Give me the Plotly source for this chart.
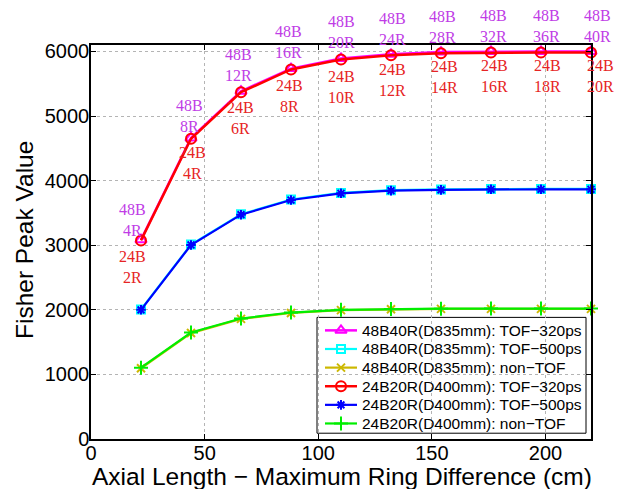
import plotly.graph_objects as go

# ---- data ----
axial_len = [22, 44, 66, 88, 110, 132, 154, 176, 198, 220]

b48_tof320 = [3085, 4660, 5385, 5735, 5892, 5955, 5990, 6000, 6000, 6000]
b48_tof500 = [2005, 3010, 3480, 3708, 3810, 3852, 3864, 3872, 3872, 3872]
b48_nontof = [1095, 1640, 1860, 1952, 1995, 2010, 2015, 2015, 2015, 2015]
b24_tof320 = [3075, 4648, 5370, 5721, 5876, 5940, 5973, 5984, 5985, 5985]
b24_tof500 = [2000, 3004, 3473, 3700, 3804, 3845, 3857, 3866, 3866, 3866]
b24_nontof = [1105, 1648, 1865, 1958, 2000, 2014, 2018, 2020, 2020, 2020]

top_labels = ["48B<br>%dR" % (4 * (i + 1)) for i in range(10)]
bottom_labels = ["24B<br>%dR" % (2 * (i + 1)) for i in range(10)]

series_names = [
    "48B40R(D835mm): TOF\u2212320ps",
    "48B40R(D835mm): TOF\u2212500ps",
    "48B40R(D835mm): non\u2212TOF",
    "24B20R(D400mm): TOF\u2212320ps",
    "24B20R(D400mm): TOF\u2212500ps",
    "24B20R(D400mm): non\u2212TOF",
]
x_title = "Axial Length \u2212 Maximum Ring Difference (cm)"
y_title = "Fisher Peak Value"

# ---- styles ----
styles = [
    dict(color="#ff00ff", symbol="triangle-up-open", size=10, width=2.5),
    dict(color="#00ffff", symbol="square-open", size=8, width=2.2),
    dict(color="#ccb800", symbol="x-thin-open", size=8, width=2.2),
    dict(color="#ff0000", symbol="circle-open", size=10, width=2.5),
    dict(color="#0000ff", symbol="asterisk-open", size=8, width=2.2),
    dict(color="#00ee00", symbol="cross-thin-open", size=10, width=2.2),
]
top_xshift = [-9, -2, -3, -3, 0, 1, 1, 2, 5, 6]
top_yshift = [20, 22, 26, 27, 26, 25, 25, 25, 25, 25]
bot_xshift = [-9, 1, -1, -2, 0, 1, 3, 3, 6, 9]
bot_yshift = [-27, -24, -26, -27, -28, -25, -24, -24, -24, -24]

# legend frame in pixel coordinates of the plotting area (overlay axes)
PLOT_L, PLOT_R, PLOT_T, PLOT_B = 91, 591, 44.7, 439.3
LEG_BOX = (317, 586, 317.5, 433.5)
LEG_ROW0, LEG_ROW_STEP = 330.5, 18.65
LEG_LINE = (325, 357)
LEG_TEXT_X = 360
XTITLE_POS = (341.5, 477)
YTITLE_POS = (24, 240)


def px2paper_x(px):
    return (px - PLOT_L) / (PLOT_R - PLOT_L)


def px2paper_y(py):
    return (PLOT_B - py) / (PLOT_B - PLOT_T)


fig = go.Figure()
all_series = [b48_tof320, b48_tof500, b48_nontof, b24_tof320, b24_tof500, b24_nontof]
for name, ys, st in zip(series_names, all_series, styles):
    fig.add_trace(go.Scatter(
        x=axial_len, y=ys, name=name, mode="lines+markers",
        line=dict(color=st["color"], width=st["width"]),
        marker=dict(symbol=st["symbol"], size=st["size"], color=st["color"],
                    line=dict(color=st["color"], width=2)),
        cliponaxis=False, showlegend=False,
    ))

annots = []
for i, x in enumerate(axial_len):
    annots.append(dict(x=x, y=b48_tof320[i], text=top_labels[i], showarrow=False,
                       xref="x", yref="y", xanchor="center", yanchor="middle",
                       xshift=top_xshift[i], yshift=top_yshift[i],
                       font=dict(family="Liberation Serif, Times New Roman, serif",
                                 size=16, color="#c03ce6")))
    annots.append(dict(x=x, y=b24_tof320[i], text=bottom_labels[i], showarrow=False,
                       xref="x", yref="y", xanchor="center", yanchor="middle",
                       xshift=bot_xshift[i], yshift=bot_yshift[i],
                       font=dict(family="Liberation Serif, Times New Roman, serif",
                                 size=16, color="#e62424")))

# ---- hand-built legend on an overlay axis pair ----
for r, (name, st) in enumerate(zip(series_names, styles)):
    yc = LEG_ROW0 + r * LEG_ROW_STEP
    fig.add_trace(go.Scatter(
        x=[LEG_LINE[0], LEG_LINE[1]], y=[yc, yc], mode="lines",
        line=dict(color=st["color"], width=st["width"]),
        xaxis="x2", yaxis="y2", showlegend=False, hoverinfo="skip"))
    fig.add_trace(go.Scatter(
        x=[(LEG_LINE[0] + LEG_LINE[1]) / 2], y=[yc], mode="markers",
        marker=dict(symbol=st["symbol"], size=st["size"], color=st["color"],
                    line=dict(color=st["color"], width=2)),
        xaxis="x2", yaxis="y2", showlegend=False, hoverinfo="skip"))
    annots.append(dict(x=px2paper_x(LEG_TEXT_X), y=px2paper_y(yc), text=name,
                       showarrow=False, xref="paper", yref="paper",
                       xanchor="left", yanchor="middle",
                       font=dict(family="Liberation Sans, Arial, sans-serif",
                                 size=15.5, color="black")))

# axis titles
annots.append(dict(x=px2paper_x(XTITLE_POS[0]), y=px2paper_y(XTITLE_POS[1]),
                   text=x_title, showarrow=False, xref="paper", yref="paper",
                   xanchor="center", yanchor="middle",
                   font=dict(family="Liberation Sans, Arial, sans-serif",
                             size=24.5, color="black")))
annots.append(dict(x=px2paper_x(YTITLE_POS[0]), y=px2paper_y(YTITLE_POS[1]),
                   text=y_title, showarrow=False, xref="paper", yref="paper",
                   xanchor="center", yanchor="middle", textangle=-90,
                   font=dict(family="Liberation Sans, Arial, sans-serif",
                             size=24.5, color="black")))

shapes = [dict(type="rect", xref="paper", yref="paper",
               x0=px2paper_x(LEG_BOX[0]), x1=px2paper_x(LEG_BOX[1]),
               y0=px2paper_y(LEG_BOX[3]), y1=px2paper_y(LEG_BOX[2]),
               line=dict(color="black", width=1), fillcolor="white", layer="between")]

axis_common = dict(
    showline=True, linecolor="black", linewidth=1.5, mirror="ticks",
    ticks="inside", ticklen=5, tickcolor="black",
    showgrid=True, gridcolor="#b4b4b4", griddash="dot", gridwidth=1,
    zeroline=False, automargin=False,
    tickfont=dict(family="Liberation Sans, Arial, sans-serif", size=20, color="black"),
)

fig.update_layout(
    width=618, height=489,
    margin=dict(l=91, r=27, t=45, b=50),
    paper_bgcolor="white", plot_bgcolor="white",
    font=dict(family="Liberation Sans, Arial, sans-serif", color="black"),
    xaxis=dict(range=[0, 220], tickvals=[0, 50, 100, 150, 200],
               ticklabelstandoff=-5, **axis_common),
    yaxis=dict(range=[0, 6100], tickvals=[0, 1000, 2000, 3000, 4000, 5000, 6000],
               ticklabelstandoff=-4, **axis_common),
    xaxis2=dict(range=[PLOT_L, PLOT_R], overlaying="x", anchor="y2", visible=False,
                fixedrange=True),
    yaxis2=dict(range=[PLOT_B, PLOT_T], overlaying="y", anchor="x2", visible=False,
                fixedrange=True),
    annotations=annots,
    shapes=shapes,
    showlegend=False,
)

fig.write_html("out.html")
